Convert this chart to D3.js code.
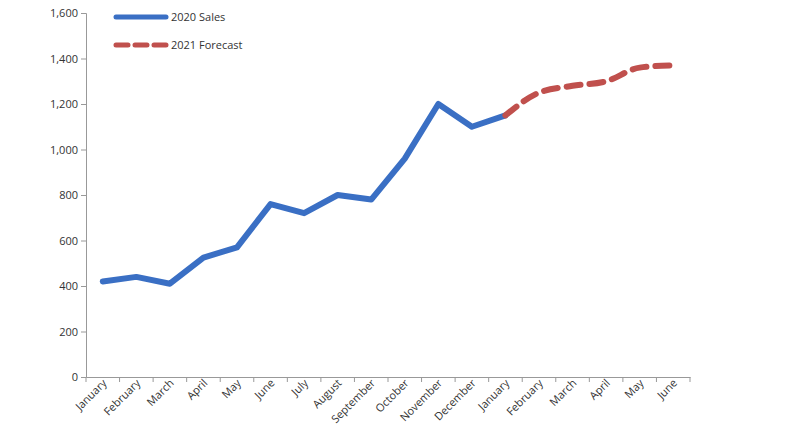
<!DOCTYPE html>
<html><head><meta charset="utf-8">
<script src="https://cdn.jsdelivr.net/npm/d3@7"></script>
<style>body{margin:0;background:#fff}text{font-family:"Open Sans",sans-serif;font-size:11px;fill:#333}</style>
</head><body><div id="chart"></div>
<script>
// Data
var months = ["January","February","March","April","May","June","July","August","September","October","November","December","January ","February ","March ","April ","May ","June "];
var sales2020 = [420,440,410,525,570,760,720,800,780,960,1200,1100,1150];
var forecast2021 = [1150,1250,1280,1300,1360,1370];
var yTicks = [0,200,400,600,800,1000,1200,1400,1600];

var margin = { top: 13, right: 108, bottom: 64, left: 86 },
    width = 798 - margin.left - margin.right,
    height = 441 - margin.top - margin.bottom;

var svg = d3.select("#chart").append("svg")
    .attr("width", 798).attr("height", 441)
    .append("g")
    .attr("transform", "translate(" + margin.left + "," + margin.top + ")");

var x = d3.scaleBand().domain(months).range([0, width]);
var y = d3.scaleLinear().domain([0, 1600]).range([height, 0]);

// y axis
var ya = svg.append("g").call(d3.axisLeft(y).tickValues(yTicks).tickFormat(d3.format(",")).tickSize(5));
ya.select(".domain").attr("stroke", "#999");
ya.selectAll("line").attr("stroke", "#999");

// x axis
var xa = svg.append("g").attr("transform", "translate(0," + height + ")")
    .call(d3.axisBottom(x).tickSize(0));
xa.select(".domain").attr("stroke", "#999");
xa.selectAll(".tk").data(d3.range(months.length + 1)).enter().append("line")
    .attr("x1", function (i) { return i * x.bandwidth(); })
    .attr("x2", function (i) { return i * x.bandwidth(); })
    .attr("y1", 0).attr("y2", 5).attr("stroke", "#999");
xa.selectAll("text").attr("text-anchor", "end")
    .attr("transform", "translate(2,4) rotate(-45)")
    .attr("dy", "0.35em").attr("y", 0).attr("x", 0);

var cx = function (i) { return x(months[i]) + x.bandwidth() / 2; };

svg.append("path").datum(sales2020)
    .attr("fill", "none").attr("stroke", "#3A6FC4").attr("stroke-width", 6)
    .attr("stroke-linejoin", "round").attr("stroke-linecap", "round")
    .attr("d", d3.line().x(function (d, i) { return cx(i); }).y(function (d) { return y(d); }));

svg.append("path").datum(forecast2021)
    .attr("fill", "none").attr("stroke", "#C0504D").attr("stroke-width", 6)
    .attr("stroke-dasharray", "14,9").attr("stroke-linecap", "round")
    .attr("d", d3.line().curve(d3.curveMonotoneX).x(function (d, i) { return cx(i + 12); }).y(function (d) { return y(d); }));

// legend
var lg = svg.append("g").attr("transform", "translate(30,4)");
lg.append("line").attr("x1", 0).attr("x2", 50).attr("y1", 0).attr("y2", 0)
    .attr("stroke", "#3A6FC4").attr("stroke-width", 5).attr("stroke-linecap", "round");
lg.append("text").attr("x", 55).attr("y", 4).text("2020 Sales");
lg.append("line").attr("x1", 0).attr("x2", 50).attr("y1", 28).attr("y2", 28)
    .attr("stroke", "#C0504D").attr("stroke-width", 5).attr("stroke-dasharray", "12,7").attr("stroke-linecap", "round");
lg.append("text").attr("x", 55).attr("y", 32).text("2021 Forecast");
</script></body></html>
